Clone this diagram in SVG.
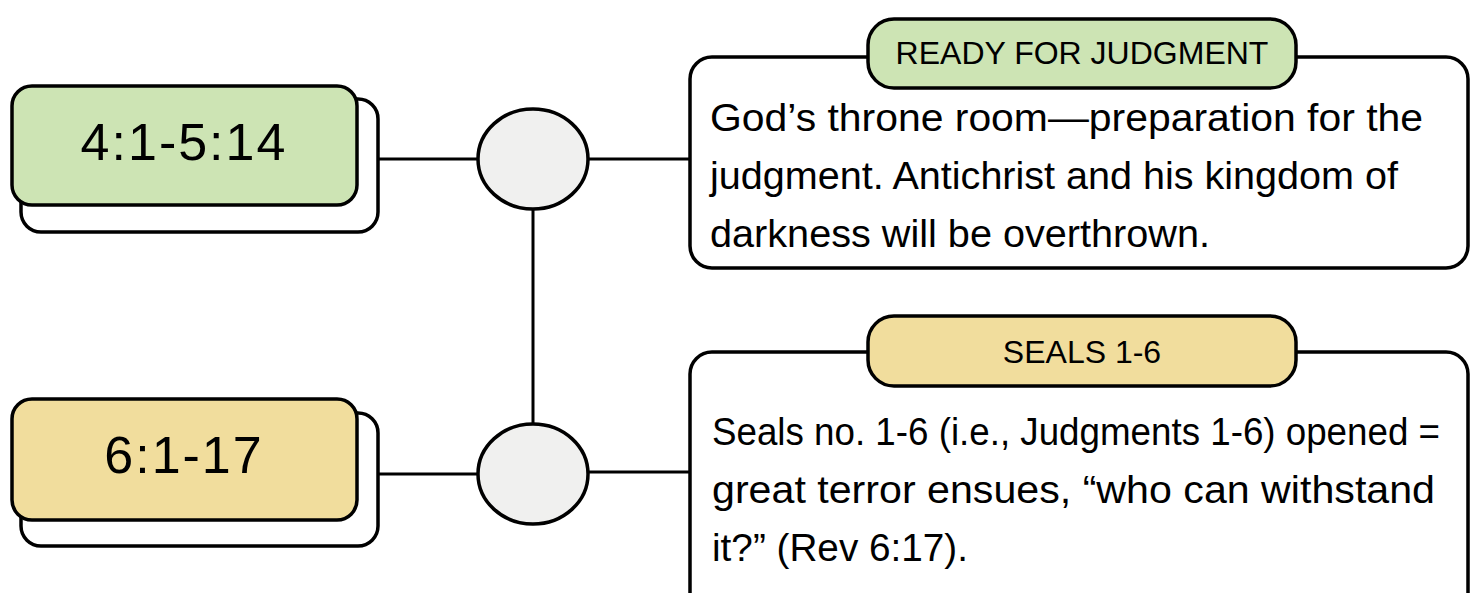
<svg xmlns="http://www.w3.org/2000/svg" width="1471" height="593" viewBox="0 0 1471 593">
<style>
.shadow{fill:#ffffff;stroke:#000;stroke-width:3.5}
.box{stroke:#000;stroke-width:3.5}
.green{fill:#cde4b4}
.yellow{fill:#f1dd9d}
.card{fill:#ffffff;stroke:#000;stroke-width:3.5}
.dot{fill:#f0f0ef;stroke:#000;stroke-width:3.5}
.conn{stroke:#000;stroke-width:3;fill:none}
.big{font-family:"Liberation Sans",Arial,sans-serif;font-size:52px;fill:#000;text-anchor:middle;letter-spacing:2px}
.pill{font-family:"Liberation Sans",Arial,sans-serif;font-size:32px;fill:#000;text-anchor:middle}
.body{font-family:"Liberation Sans",Arial,sans-serif;font-size:38px;fill:#000}
</style>
<rect width="1471" height="593" fill="#ffffff"/>
<g id="connectors">
<line class="conn" x1="378" y1="159" x2="478" y2="159"/>
<line class="conn" x1="588" y1="159" x2="690" y2="159"/>
<line class="conn" x1="533" y1="209" x2="533" y2="424"/>
<line class="conn" x1="378" y1="474" x2="478" y2="474"/>
<line class="conn" x1="588" y1="472" x2="690" y2="472"/>
</g>
<g id="node-4-1">
<rect class="shadow" x="21" y="99" width="357" height="133" rx="20"/>
<rect class="box green" x="12" y="86" width="345" height="119" rx="20"/>
<text class="big" x="184" y="160">4:1-5:14</text>
</g>
<g id="node-6-1">
<rect class="shadow" x="21" y="413" width="357" height="133" rx="20"/>
<rect class="box yellow" x="12" y="399" width="345" height="121" rx="20"/>
<text class="big" x="184" y="473">6:1-17</text>
</g>
<g id="hub-top">
<ellipse class="dot" cx="533" cy="159" rx="55" ry="50"/>
</g>
<g id="hub-bottom">
<ellipse class="dot" cx="533" cy="474" rx="55" ry="50"/>
</g>
<g id="card-ready">
<rect class="card" x="690" y="57" width="778" height="211" rx="22"/>
<rect class="box green" x="868" y="19" width="428" height="69" rx="26"/>
<text class="pill" x="1082" y="64">READY FOR JUDGMENT</text>
<text class="body" x="710" y="131" textLength="713" lengthAdjust="spacingAndGlyphs">God’s throne room—preparation for the</text>
<text class="body" x="710" y="189" textLength="688" lengthAdjust="spacingAndGlyphs">judgment. Antichrist and his kingdom of</text>
<text class="body" x="710" y="247" textLength="500" lengthAdjust="spacingAndGlyphs">darkness will be overthrown.</text>
</g>
<g id="card-seals">
<rect class="card" x="690" y="352" width="778" height="270" rx="22"/>
<rect class="box yellow" x="868" y="316" width="428" height="70" rx="26"/>
<text class="pill" x="1082" y="363">SEALS 1-6</text>
<text class="body" x="712" y="445" textLength="728" lengthAdjust="spacingAndGlyphs">Seals no. 1-6 (i.e., Judgments 1-6) opened =</text>
<text class="body" x="712" y="503" textLength="723" lengthAdjust="spacingAndGlyphs">great terror ensues, “who can withstand</text>
<text class="body" x="712" y="561" textLength="256" lengthAdjust="spacingAndGlyphs">it?” (Rev 6:17).</text>
</g>
</svg>
